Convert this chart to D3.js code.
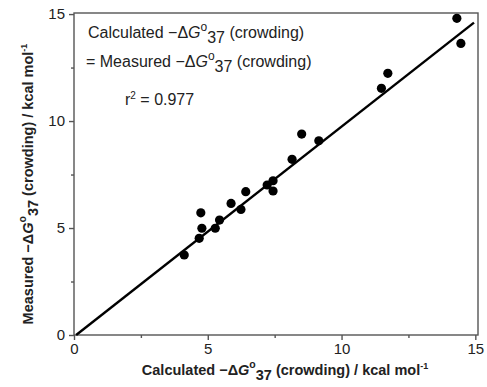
<!DOCTYPE html>
<html>
<head>
<meta charset="utf-8">
<script src="https://cdn.jsdelivr.net/npm/d3@7"></script>
<style>
  body { margin: 0; background: #fff; }
  text { font-family: "Liberation Sans", Arial, sans-serif; fill: #222; }
</style>
</head>
<body>
<div id="chart"></div>
<script>
// calculated vs measured -dG37 (crowding), kcal/mol
const calculated = [4.12, 4.68, 4.74, 4.78, 5.28, 5.44, 5.87, 6.24, 6.42, 7.22, 7.44, 7.44, 8.15, 8.51, 9.15, 11.49, 11.73, 14.31, 14.46];
const measured   = [3.74, 4.52, 5.71, 4.99, 4.99, 5.37, 6.15, 5.87, 6.70, 7.01, 7.21, 6.73, 8.21, 9.39, 9.08, 11.53, 12.23, 14.80, 13.63];
const majorTicks = [0, 5, 10, 15];
const minorTicks = [2.5, 7.5, 12.5];
// fitted line endpoints (x values) and coefficients
const fitX = [0.08, 14.95];
const fitIntercept = -0.08, fitSlope = 0.982;

const W = 487, H = 387;
const svg = d3.select("#chart").append("svg").attr("width", W).attr("height", H);

const x = d3.scaleLinear().domain([0, 15.1]).range([74, 478]);
const y = d3.scaleLinear().domain([0, 15.05]).range([335, 13]);

// frame
svg.append("rect")
  .attr("x", x(0)).attr("y", y(15.05))
  .attr("width", x(15.1) - x(0)).attr("height", y(0) - y(15.05))
  .attr("fill", "none").attr("stroke", "#555").attr("stroke-width", 1.4);

// axes
const styleAxis = (g) => {
  g.select(".domain").remove();
  g.selectAll("line").attr("stroke", "#555").attr("stroke-width", 1.4);
  g.selectAll("text").style("font-size", "15px").attr("fill", "#333");
};
svg.append("g").attr("transform", `translate(0,${y(0)})`)
  .call(d3.axisBottom(x).tickValues(majorTicks).tickSize(5).tickPadding(3).tickFormat(d3.format("d")))
  .call(styleAxis);
svg.append("g").attr("transform", `translate(0,${y(0)})`)
  .call(d3.axisBottom(x).tickValues(minorTicks).tickSize(3).tickFormat(""))
  .call(styleAxis);
svg.append("g").attr("transform", `translate(${x(0)},0)`)
  .call(d3.axisLeft(y).tickValues(majorTicks).tickSize(5).tickPadding(4).tickFormat(d3.format("d")))
  .call(styleAxis);
svg.append("g").attr("transform", `translate(${x(0)},0)`)
  .call(d3.axisLeft(y).tickValues(minorTicks).tickSize(3).tickFormat(""))
  .call(styleAxis);

// fit line
svg.append("line")
  .attr("x1", x(fitX[0])).attr("y1", y(fitIntercept + fitSlope * fitX[0]))
  .attr("x2", x(fitX[1])).attr("y2", y(fitIntercept + fitSlope * fitX[1]))
  .attr("stroke", "#000").attr("stroke-width", 2.4);

// points
svg.append("g").selectAll("circle")
  .data(calculated.map((c, i) => [c, measured[i]]))
  .join("circle")
  .attr("cx", (d) => x(d[0]))
  .attr("cy", (d) => y(d[1]))
  .attr("r", 4.6)
  .attr("fill", "#000");

// helper: write "-ΔG°37 (crowding)" pieces into a text element
const dG = (t, size) => {
  t.append("tspan").text("\u2212\u0394");
  t.append("tspan").text("G").style("font-style", "italic");
  t.append("tspan").text("o").attr("dy", -7).style("font-size", (size - 4) + "px");
  t.append("tspan").text("37").attr("dy", 12);
  t.append("tspan").text(" (crowding)").attr("dy", -5);
};

// annotation
const a1 = svg.append("text").attr("x", 88).attr("y", 38).style("font-size", "16px");
a1.append("tspan").text("Calculated ");
dG(a1, 16);
const a2 = svg.append("text").attr("x", 86).attr("y", 67).style("font-size", "16px");
a2.append("tspan").text("= Measured ");
dG(a2, 16);
const a3 = svg.append("text").attr("x", 125).attr("y", 105).style("font-size", "16px");
a3.append("tspan").text("r");
a3.append("tspan").text("2").attr("dy", -6).style("font-size", "10px");
a3.append("tspan").text(" = 0.977").attr("dy", 6);

// x axis title
const xt = svg.append("text").attr("x", 285).attr("y", 375)
  .attr("text-anchor", "middle").style("font-size", "14.5px").style("font-weight", "bold");
xt.append("tspan").text("Calculated ");
dG(xt, 14.5);
xt.append("tspan").text(" / kcal mol");
xt.append("tspan").text("-1").attr("dy", -6).style("font-size", "9px");

// y axis title
const yt = svg.append("text").attr("transform", "translate(33,184) rotate(-90)")
  .attr("text-anchor", "middle").style("font-size", "14.5px").style("font-weight", "bold");
yt.append("tspan").text("Measured ");
dG(yt, 14.5);
yt.append("tspan").text(" / kcal mol");
yt.append("tspan").text("-1").attr("dy", -6).style("font-size", "9px");
</script>
</body>
</html>
